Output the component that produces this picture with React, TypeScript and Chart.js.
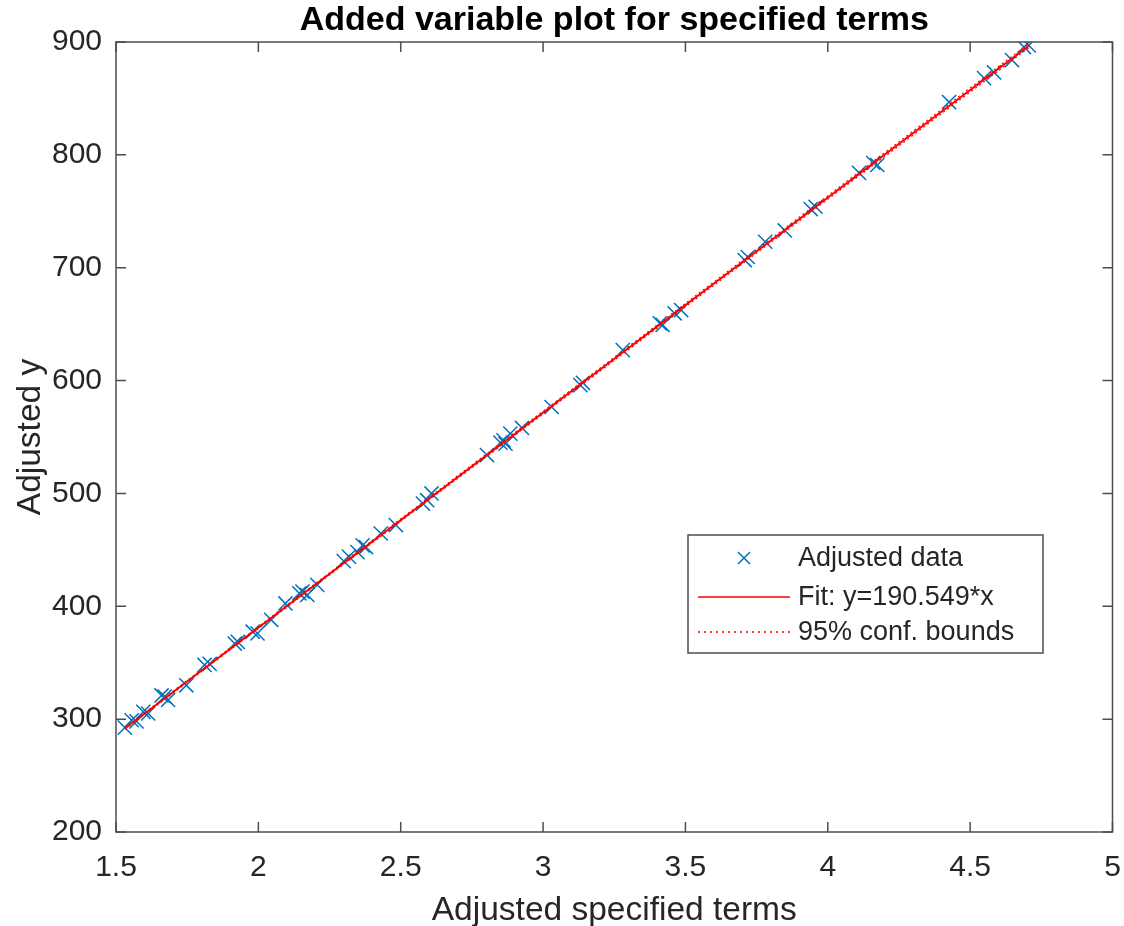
import { useEffect, useRef } from "react";
import { Chart, registerables } from "chart.js";

Chart.register(...registerables);

// ---- data ----
const dataX = [
  1.531, 1.555, 1.572, 1.596, 1.613, 1.66, 1.671, 1.683, 1.747, 1.811, 1.829, 1.917, 1.928, 1.98, 1.997,
  2.045, 2.095, 2.144, 2.155, 2.172, 2.207, 2.3, 2.318, 2.348, 2.366, 2.378, 2.43, 2.483, 2.578, 2.593,
  2.608, 2.803, 2.85, 2.861, 2.868, 2.885, 2.926, 3.03, 3.131, 3.14, 3.28, 3.41, 3.42, 3.462, 3.485,
  3.708, 3.719, 3.78, 3.849, 3.94, 3.957, 4.11, 4.16, 4.174, 4.426, 4.549, 4.584, 4.647, 4.689, 4.706,
];
const dataY = [
  292.5, 299, 298, 306.5, 305, 321, 320, 317, 330, 348, 349, 367, 368.5, 377.5, 376,
  388, 402.5, 411.5, 413, 410, 419, 440, 444, 448, 454, 452.5, 464.5, 472, 491, 494,
  500, 534, 545, 547, 544, 553, 558, 576.6, 596, 598, 627, 650.7, 649.3, 659.6, 662.5,
  706.8, 709.5, 723, 733, 752, 754, 784, 792.8, 791, 846.8, 868, 873, 884, 895.5, 897,
];
const fitX = [1.531, 4.706];
const fitY = [291.7, 896.7];
const upperBoundY = [292.4, 898.6];
const lowerBoundY = [291.0, 894.8];

const xTickValues = [1.5, 2, 2.5, 3, 3.5, 4, 4.5, 5];
const yTickValues = [200, 300, 400, 500, 600, 700, 800, 900];

const seriesLabels = ["Adjusted data", "Fit: y=190.549*x", "95% conf. bounds"];
const titleText = "Added variable plot for specified terms";
const xTitle = "Adjusted specified terms";
const yTitle = "Adjusted y";

const FONT = '"Liberation Sans", Arial, Helvetica, sans-serif';
const BLUE = "#0072BD";
const RED = "#FF0000";
const AXIS = "#4d4d4d";
const TEXT = "#262626";

const boxPlugin = {
  id: "matlabBox",
  afterDraw(chart: any) {
    const { ctx, chartArea: a, scales } = chart;
    ctx.save();
    // axes box
    ctx.strokeStyle = AXIS;
    ctx.lineWidth = 1.5;
    ctx.strokeRect(a.left, a.top, a.right - a.left, a.bottom - a.top);
    // inner ticks on all four sides
    const tl = 10;
    ctx.beginPath();
    scales.x.ticks.forEach((t: any) => {
      const px = scales.x.getPixelForValue(t.value);
      ctx.moveTo(px, a.bottom);
      ctx.lineTo(px, a.bottom - tl);
      ctx.moveTo(px, a.top);
      ctx.lineTo(px, a.top + tl);
    });
    scales.y.ticks.forEach((t: any) => {
      const py = scales.y.getPixelForValue(t.value);
      ctx.moveTo(a.left, py);
      ctx.lineTo(a.left + tl, py);
      ctx.moveTo(a.right, py);
      ctx.lineTo(a.right - tl, py);
    });
    ctx.stroke();

    // title
    ctx.fillStyle = "#000";
    ctx.font = `bold 34px ${FONT}`;
    ctx.textAlign = "center";
    ctx.textBaseline = "alphabetic";
    ctx.fillText(titleText, (a.left + a.right) / 2, 30);

    // legend
    const lx = 688, ly = 535, lw = 355, lh = 118;
    ctx.fillStyle = "#fff";
    ctx.fillRect(lx, ly, lw, lh);
    ctx.strokeStyle = AXIS;
    ctx.lineWidth = 1.5;
    ctx.strokeRect(lx, ly, lw, lh);
    const rows = [558, 597, 632];
    ctx.font = `27px ${FONT}`;
    ctx.textAlign = "left";
    ctx.textBaseline = "middle";
    ctx.fillStyle = TEXT;
    seriesLabels.forEach((s, i) => ctx.fillText(s, 798, rows[i] + 1));
    // marker sample
    ctx.strokeStyle = BLUE;
    ctx.lineWidth = 1.5;
    const r = 6;
    ctx.beginPath();
    ctx.moveTo(744 - r, rows[0] - r);
    ctx.lineTo(744 + r, rows[0] + r);
    ctx.moveTo(744 + r, rows[0] - r);
    ctx.lineTo(744 - r, rows[0] + r);
    ctx.stroke();
    // fit sample
    ctx.strokeStyle = RED;
    ctx.lineWidth = 1.5;
    ctx.beginPath();
    ctx.moveTo(698, rows[1]);
    ctx.lineTo(790, rows[1]);
    ctx.stroke();
    // bounds sample
    ctx.setLineDash([2, 4]);
    ctx.beginPath();
    ctx.moveTo(698, rows[2]);
    ctx.lineTo(790, rows[2]);
    ctx.stroke();
    ctx.setLineDash([]);
    ctx.restore();
  },
};

export default function App() {
  const ref = useRef<HTMLCanvasElement | null>(null);

  useEffect(() => {
    if (!ref.current) return;
    const chart = new Chart(ref.current, {
      type: "scatter",
      data: {
        datasets: [
          {
            label: seriesLabels[0],
            data: dataX.map((x, i) => ({ x, y: dataY[i] })),
            pointStyle: "crossRot",
            pointRadius: 10,
            pointBorderWidth: 1.5,
            borderColor: BLUE,
            backgroundColor: BLUE,
            showLine: false,
            order: 2,
          },
          {
            label: seriesLabels[1],
            data: fitX.map((x, i) => ({ x, y: fitY[i] })),
            showLine: true,
            borderColor: RED,
            borderWidth: 2,
            pointRadius: 0,
            order: 0,
          },
          {
            label: seriesLabels[2],
            data: fitX.map((x, i) => ({ x, y: upperBoundY[i] })),
            showLine: true,
            borderColor: RED,
            borderWidth: 1.2,
            borderDash: [2, 3],
            pointRadius: 0,
            order: 1,
          },
          {
            label: seriesLabels[2] + " (lower)",
            data: fitX.map((x, i) => ({ x, y: lowerBoundY[i] })),
            showLine: true,
            borderColor: RED,
            borderWidth: 1.2,
            borderDash: [2, 3],
            pointRadius: 0,
            order: 1,
          },
        ],
      },
      options: {
        animation: false,
        responsive: false,
        maintainAspectRatio: false,
        layout: { padding: { left: 0, right: 8, top: 42, bottom: 0 } },
        plugins: {
          legend: { display: false },
          tooltip: { enabled: false },
          title: { display: false },
        },
        scales: {
          x: {
            type: "linear",
            min: 1.5,
            max: 5,
            afterBuildTicks: (s: any) => {
              s.ticks = xTickValues.map((v) => ({ value: v }));
            },
            afterFit: (s: any) => {
              s.height = 94;
              s.paddingLeft = 0;
              s.paddingRight = 0;
            },
            grid: { display: false, drawTicks: false },
            border: { display: false },
            ticks: {
              padding: 18,
              color: TEXT,
              font: { family: FONT, size: 30 },
              maxRotation: 0,
              autoSkip: false,
              callback: (v: any) => String(Number(v)),
            },
            title: {
              display: true,
              text: xTitle,
              color: TEXT,
              font: { family: FONT, size: 33.5, lineHeight: 0.9 },
              padding: { top: 0, bottom: 0 },
            },
          },
          y: {
            type: "linear",
            min: 200,
            max: 900,
            afterBuildTicks: (s: any) => {
              s.ticks = yTickValues.map((v) => ({ value: v }));
            },
            afterFit: (s: any) => {
              s.width = 116;
              s.paddingTop = 0;
              s.paddingBottom = 0;
            },
            grid: { display: false, drawTicks: false },
            border: { display: false },
            ticks: {
              padding: 14,
              color: TEXT,
              font: { family: FONT, size: 30 },
              autoSkip: false,
              callback: (v: any) => String(Number(v)),
            },
            title: {
              display: true,
              text: yTitle,
              color: TEXT,
              font: { family: FONT, size: 33.5 },
              padding: { top: 11, bottom: 0 },
            },
          },
        },
      },
      plugins: [boxPlugin],
    });
    return () => chart.destroy();
  }, []);

  return (
    <div style={{ position: "fixed", left: 0, top: 0, width: 1124, height: 926, background: "#fff" }}>
      <canvas ref={ref} width={1124} height={926} style={{ width: 1124, height: 926, display: "block" }} />
    </div>
  );
}
